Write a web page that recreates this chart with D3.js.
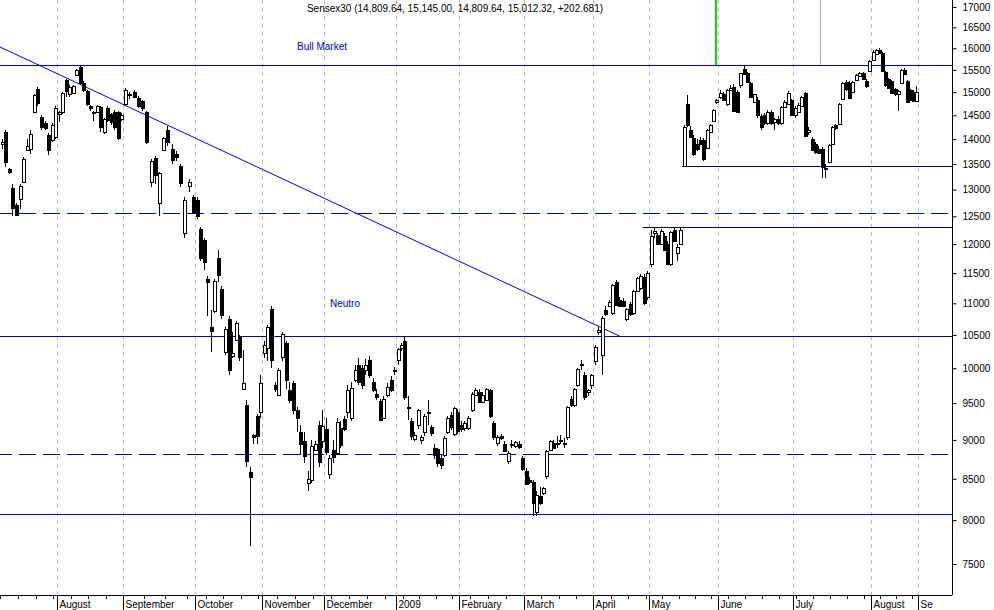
<!DOCTYPE html>
<html>
<head>
<meta charset="utf-8">
<script src="https://cdn.jsdelivr.net/npm/d3@7"></script>
<style>
  body { margin: 0; background: #fff; }
  text { font-family: "Liberation Sans", Arial, sans-serif; }
</style>
</head>
<body>
<svg id="chart" width="994" height="610"></svg>
<script>
"use strict";

// [open, high, low, close] per trading day, grouped by month
const jul08 = [[13900,14000,13800,13950],[14150,14190,13440,13540],[13400,13420,13300,13350],[13030,13100,12500,12650],[12700,12750,12514,12520],[12830,13100,12640,13070],[13150,13640,13150,13600],[13780,14000,13750,13850],[13800,14190,13700,14100],[14580,14950,14550,14930],[15070,15120,14700,14770],[14460,14500,14200,14250],[14340,14380,14200,14230],[14090,14120,13680,13780],[13990,14330,13950,14290],[14040,14700,14000,14650]];
const aug08 = [[14520,14600,14350,14560],[14570,15000,14530,14980],[15270,15300,14900,15030],[14950,15150,14900,15110],[14990,15150,14950,15130],[15390,15530,15350,15500],[15560,15580,15150,15200],[15200,15250,15000,15050],[15020,15050,14700,14740],[14700,14720,14600,14650],[14580,14600,14380,14560],[14570,14720,14550,14690],[14670,14700,14150,14250],[14150,14450,14100,14420],[14650,14700,14350,14400],[14520,14550,14300,14350],[14580,14620,14200,14250],[14560,14600,13980,14020],[14420,14550,14380,14500]];
const sep08 = [[14740,15100,14700,15050],[14930,15000,14850,14950],[15010,15050,14880,14900],[14880,14920,14650,14700],[14800,14830,14600,14650],[14560,14600,13900,13950],[13150,13600,13050,13550],[13620,13650,13100,13280],[12750,13350,12500,13320],[13780,14050,13750,14020],[14190,14280,13850,13950],[13800,13900,13500,13580],[13700,13750,13550,13640],[13460,13500,13050,13130],[12200,12850,12100,12800],[13060,13200,12950,13150],[12850,12900,12550,12580]];
const oct08 = [[12800,12850,12450,12500],[12270,12300,11700,11760],[12070,12100,11550,11690],[11400,11450,10800,11350],[10630,10900,10240,10560],[10880,11400,10850,11370],[11760,11900,11350,11460],[11240,11280,10750,10810],[10240,10620,10200,10590],[10750,10800,9900,9975],[10180,10550,10150,10230],[10430,10720,10400,10680],[10480,10500,10100,10170],[9700,10270,9680,9790],[9480,9550,8650,8720],[8580,8650,7700,8520],[9070,9080,8950,9040],[9320,9350,8950,9050],[9370,9900,9300,9790]];
const nov08 = [[10220,10400,10150,10340],[10300,10650,10100,10630],[10910,10950,10000,10120],[9760,9800,9650,9700],[9620,10000,9600,9975],[10170,10550,10100,10520],[10380,10400,9700,9830],[9680,9800,9500,9545],[9790,9820,9350,9400],[9400,9450,9100,9300],[9100,9200,8800,8950],[8990,9100,8700,8790],[8450,8600,8350,8500],[8490,9000,8450,8920],[8870,8980,8850,8950],[9200,9250,8650,8710],[8980,9400,8900,9180]];
const dec08 = [[9150,9300,8800,8840],[8560,8800,8500,8760],[8870,9000,8700,8780],[8830,9300,8800,9240],[9160,9250,8900,8930],[9280,9320,9120,9150],[9380,9750,9300,9680],[9300,9800,9250,9720],[9830,10050,9800,9980],[10050,10150,9750,9800],[10000,10050,9700,9750],[9975,10130,9900,10050],[10120,10180,9850,9900],[9800,9850,9650,9680],[9630,9700,9550,9580],[9530,9560,9250,9270],[9300,9600,9280,9560],[9620,9780,9580,9730],[9830,9880,9650,9680],[9975,10020,9900,9980]];
const jan09 = [[10120,10300,10050,10280],[10300,10380,10250,10340],[10400,10470,9550,9590],[9430,9600,9270,9440],[9260,9300,9000,9050],[9010,9100,8980,9070],[9200,9420,9150,9400],[9000,9060,8950,9040],[9100,9350,9050,9320],[9360,9550,9200,9370],[9170,9200,9050,9090],[8900,8950,8750,8800],[8880,8900,8650,8700],[8770,8800,8620,8670],[8800,9050,8780,9020],[9100,9320,9080,9290],[9340,9380,9130,9170],[9080,9450,9050,9430],[9380,9420,9080,9120]];
const feb09 = [[9200,9250,9100,9150],[9160,9260,9120,9230],[9160,9320,9130,9300],[9400,9650,9380,9630],[9620,9720,9600,9690],[9660,9700,9500,9520],[9520,9650,9500,9620],[9550,9720,9530,9700],[9680,9700,9300,9320],[9220,9250,9000,9040],[8960,9060,8920,9040],[9050,9080,9000,9030],[8950,8980,8840,8860],[8720,8850,8690,8830],[8940,9000,8900,8950],[8920,8990,8900,8970],[8950,8980,8880,8910],[8770,8790,8600,8620]];
const mar09 = [[8600,8630,8420,8440],[8490,8520,8430,8460],[8460,8480,8047,8200],[8100,8350,8050,8300],[8290,8400,8180,8200],[8320,8400,8300,8380],[8530,8870,8500,8850],[8870,9000,8850,8990],[8960,9000,8880,8900],[8950,9050,8900,8960],[8990,9060,8950,9000],[8950,9020,8900,8960],[9040,9460,9000,9440],[9560,9600,9450,9470],[9470,9720,9450,9700],[9750,10000,9730,9990],[10050,10120,9980,10060],[9900,9950,9550,9580],[9650,9700,9600,9680],[9750,9920,9700,9900]];
const apr09 = [[10100,10340,10050,10320],[10550,10620,10500,10570],[10200,10800,9900,10760],[10900,10950,10800,10830],[10960,11050,10940,11020],[10850,11320,10820,11300],[11350,11380,10950,10980],[11060,11100,10940,10960],[11040,11080,10940,10960],[10750,10930,10720,10910],[10990,11020,10800,10830],[10850,11220,10820,11200],[11200,11440,11180,11420],[11250,11480,11220,11450],[11440,11480,10980,11000],[11100,11530,11050,11500]];
const may09 = [[11650,12250,11600,12150],[12200,12300,12100,12230],[12170,12200,11980,12000],[12000,12260,11980,12230],[12150,12200,11880,11900],[12000,12050,11630,11650],[11650,12240,11620,12220],[12250,12300,12030,12050],[11850,12000,11700,11950],[12000,12280,11980,12250],[13450,14300,13450,14250],[14750,14930,14250,14300],[14200,14280,14020,14050],[14020,14080,13650,13700],[13900,14000,13750,13790],[13980,14050,13880,13900],[13980,14020,13550,13600],[13820,14220,13800,14200],[14150,14320,14120,14300],[14380,14640,14350,14620],[14780,14860,14750,14830]];
const jun09 = [[14900,15050,14850,14990],[14970,15000,14800,14830],[14750,15080,14700,15050],[15050,15150,15020,15100],[15120,15180,14580,14600],[15000,15050,14550,14580],[15150,15440,15100,15420],[15530,15600,15380,15400],[15430,15450,15200,15220],[15200,15230,14880,14900],[14780,14970,14760,14950],[14830,14900,14450,14500],[14480,14520,14180,14250],[14500,14550,14300,14330],[14330,14620,14300,14580],[14580,14620,14300,14330],[14350,14450,14200,14430],[14430,14480,14300,14330],[14330,14700,14300,14670],[14680,14820,14650,14790],[14750,15020,14720,14990],[14830,14860,14480,14500]];
const jul09 = [[14500,14700,14450,14650],[14560,14760,14540,14720],[14700,14920,14680,14900],[14980,15000,14050,14070],[14140,14250,14080,14200],[14000,14050,13750,13780],[13900,13950,13700,13740],[13800,13850,13700,13720],[13800,13830,13220,13430],[13400,13500,13220,13420],[13540,13900,13520,13880],[13900,14270,13880,14250],[14290,14320,14200,14230],[14320,14760,14300,14740],[14850,15220,14820,15200],[15230,15280,15030,15060],[15200,15250,14850,14870],[15000,15250,14980,15230],[15270,15400,15250,15380],[15350,15450,15330,15420],[15420,15450,15280,15300],[15250,15300,15100,15130],[15480,15720,15450,15700]];
const aug09 = [[15720,15950,15700,15920],[15860,15980,15840,15960],[15950,16000,15880,15900],[15900,15920,15460,15480],[15450,15480,15120,15150],[15300,15320,15080,15100],[15250,15280,14950,14980],[15080,15100,14920,14950],[14950,15050,14600,15020],[15200,15520,15180,15500],[15500,15550,15380,15400],[15250,15270,14760,14780],[15050,15080,14800,14830],[15000,15050,14780,14800],[14809.64,15145,14809.64,15012.32]];

const months = [jul08, aug08, sep08, oct08, nov08, dec08, jan09, feb09, mar09, apr09, may09, jun09, jul09, aug09];
const monthLabels = ["", "August", "September", "October", "November", "December", "2009", "February", "March", "April", "May", "June", "July", "August", "Se"];
const monthPixels = [0, 57, 123, 195, 262, 324, 396, 459, 524, 593, 649, 718, 793, 871, 918];
const yTicks = [7500, 8000, 8500, 9000, 9500, 10000, 10500, 11000, 11500, 12000, 12500, 13000, 13500, 14000, 14500, 15000, 15500, 16000, 16500, 17000];

// drawn support / resistance levels
const solidLevels = [15600, 10480];
const dashedLevels = [12560, 8820];
const bottomLevel = 8070;
const boxLevels = [{v: 13450, from: 191}, {v: 12300, from: 179.3}];
const trendIdx = [0, 172.7], trendVal = [16030, 10480];
const markers = [{i: 201, color: "#00dd00", w: 2}, {i: 232, color: "#aaaaaa", w: 1}];
const title = "Sensex30 (14,809.64, 15,145.00, 14,809.64, 15,012.32, +202.681)";

const W = 952, H = 595;
const data = months.flat();
const monthStarts = [0];
months.forEach(m => monthStarts.push(monthStarts[monthStarts.length - 1] + m.length));

const x = d3.scaleLinear().domain(monthStarts).range(monthPixels);
const y = d3.scaleLog().domain([7500, 17000]).range([564, 7]);

const svg = d3.select("#chart");
svg.append("rect").attr("width", 994).attr("height", 610).attr("fill", "#fff");

// month gridlines
svg.append("g").selectAll("line").data(monthStarts.slice(1))
  .enter().append("line")
  .attr("x1", d => Math.round(x(d)) + 0.5).attr("x2", d => Math.round(x(d)) + 0.5)
  .attr("y1", 0).attr("y2", H)
  .attr("stroke", "#bbb").attr("stroke-dasharray", "4,4");

const lines = svg.append("g").attr("shape-rendering", "crispEdges");
solidLevels.forEach(v => lines.append("line")
  .attr("x1", 0).attr("x2", W).attr("y1", Math.round(y(v)) + 0.5).attr("y2", Math.round(y(v)) + 0.5)
  .attr("stroke", "#0000aa"));
dashedLevels.forEach(v => lines.append("line")
  .attr("x1", 0).attr("x2", W).attr("y1", Math.round(y(v)) + 0.5).attr("y2", Math.round(y(v)) + 0.5)
  .attr("stroke", "#0000aa").attr("stroke-dasharray", "17,7").attr("stroke-dashoffset", 5));
lines.append("line").attr("x1", 0).attr("x2", W)
  .attr("y1", Math.round(y(bottomLevel)) + 0.5).attr("y2", Math.round(y(bottomLevel)) + 0.5)
  .attr("stroke", "#0000ff");
boxLevels.forEach(b => lines.append("line")
  .attr("x1", x(b.from)).attr("x2", W).attr("y1", Math.round(y(b.v)) + 0.5).attr("y2", Math.round(y(b.v)) + 0.5)
  .attr("stroke", "#000066"));
markers.forEach(m => lines.append("line")
  .attr("x1", Math.round(x(m.i)) + 0.5).attr("x2", Math.round(x(m.i)) + 0.5)
  .attr("y1", 0).attr("y2", Math.round(y(solidLevels[0])))
  .attr("stroke", m.color).attr("stroke-width", m.w));

svg.append("line")
  .attr("x1", x(trendIdx[0])).attr("y1", y(trendVal[0]))
  .attr("x2", x(trendIdx[1])).attr("y2", y(trendVal[1]))
  .attr("stroke", "#0000ff");

// candles
const candles = svg.append("g").attr("shape-rendering", "crispEdges");
candles.selectAll("g").data(data).enter().append("g")
  .each(function(d, i) {
    const g = d3.select(this);
    const cx = Math.round(x(i + 0.5)) + 0.5;
    const [o, h, l, c] = d;
    const top = Math.round(y(Math.max(o, c))), bot = Math.round(y(Math.min(o, c)));
    g.append("line").attr("x1", cx).attr("x2", cx)
      .attr("y1", Math.round(y(h))).attr("y2", Math.round(y(l)))
      .attr("stroke", "#000");
    g.append("rect").attr("x", cx - 1.5).attr("y", top + 0.5)
      .attr("width", 3).attr("height", Math.max(bot - top, 1))
      .attr("fill", c >= o ? "#fff" : "#000").attr("stroke", "#000");
  });

// frame and axes
svg.append("g").attr("shape-rendering", "crispEdges").call(g => {
  g.append("line").attr("x1", W + 0.5).attr("x2", W + 0.5).attr("y1", 0).attr("y2", H).attr("stroke", "#000");
  g.append("line").attr("x1", 0).attr("x2", W).attr("y1", H + 0.5).attr("y2", H + 0.5).attr("stroke", "#000");
});

const yAxis = svg.append("g").attr("transform", `translate(${W + 0.5},0)`)
  .call(d3.axisRight(y).tickValues(yTicks).tickFormat(d3.format("d")).tickSize(4).tickPadding(6));
yAxis.select(".domain").remove();
yAxis.selectAll("text").attr("font-size", 10).attr("font-family", "Liberation Sans, Arial, sans-serif");

const weekTicks = d3.range(0, data.length, 5);
svg.append("g").attr("shape-rendering", "crispEdges").selectAll("line").data(weekTicks)
  .enter().append("line")
  .attr("x1", d => Math.round(x(d)) + 0.5).attr("x2", d => Math.round(x(d)) + 0.5)
  .attr("y1", H).attr("y2", H + 4).attr("stroke", "#000");

const mAxis = svg.append("g");
monthStarts.slice(1).forEach((s, k) => {
  const px = Math.round(monthPixels[k + 1]) + 0.5;
  mAxis.append("line").attr("x1", px).attr("x2", px).attr("y1", H).attr("y2", 610)
    .attr("stroke", "#000").attr("shape-rendering", "crispEdges");
  mAxis.append("text").attr("x", px + 2).attr("y", 608)
    .attr("font-size", 10).text(monthLabels[k + 1]);
});

svg.append("text").attr("x", 455).attr("y", 12).attr("text-anchor", "middle")
  .attr("font-size", 10).text(title);
svg.append("text").attr("x", 297).attr("y", 50).attr("font-size", 10).attr("fill", "#0000cc").text("Bull Market");
svg.append("text").attr("x", 330).attr("y", 307).attr("font-size", 10).attr("fill", "#0000cc").text("Neutro");
</script>
</body>
</html>
